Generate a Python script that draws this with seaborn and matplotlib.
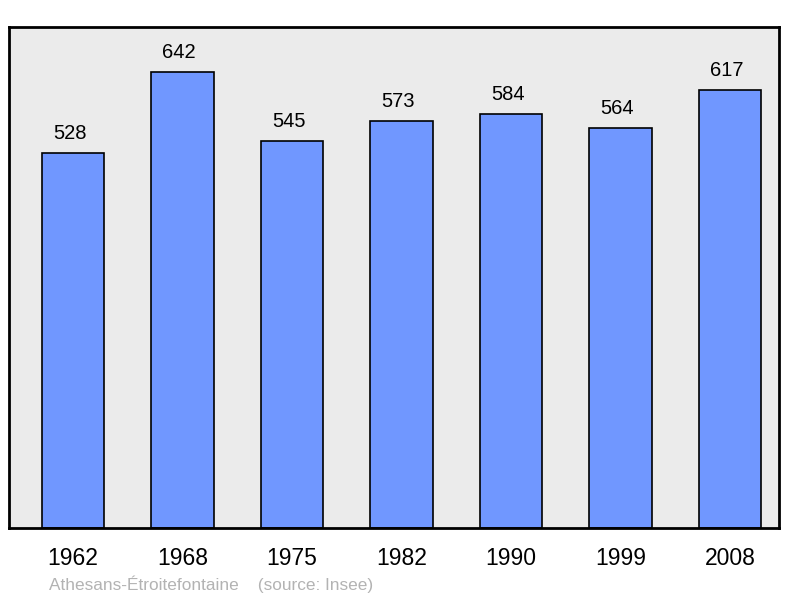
import numpy as np
import pandas as pd
import matplotlib
matplotlib.use("Agg")
import matplotlib.pyplot as plt
import seaborn as sns

# population data
years = ["1962", "1968", "1975", "1982", "1990", "1999", "2008"]
population = [528, 642, 545, 573, 584, 564, 617]

df = pd.DataFrame({"year": years, "pop": population})

sns.set_style("white")
plt.rcParams["font.family"] = ["Liberation Sans", "DejaVu Sans"]
plt.rcParams["text.color"] = "black"
plt.rcParams["xtick.color"] = "black"

fig = plt.figure(figsize=(8, 5.98), dpi=100)
ax = fig.add_axes([9 / 800, 1 - 528 / 598, 770 / 800, 501 / 598])
ax.set_facecolor("#ebebeb")

sns.barplot(data=df, x="year", y="pop", color="#7097ff", saturation=1,
            width=0.57, edgecolor="black", linewidth=1.2, ax=ax)

# value labels above the bars
for i, v in enumerate(population):
    ax.text(i - 0.03, v + 14, str(v), ha="center", va="bottom", fontsize=14.5, color="black")

ax.set_ylim(0, 706)
ax.set_xlim(-0.584, 6.447)
ax.set_yticks([])
ax.set_xlabel("")
ax.set_ylabel("")
ax.tick_params(axis="x", length=0, labelsize=16.5, pad=14, labelcolor="black")
for s in ax.spines.values():
    s.set_linewidth(2)
    s.set_color("black")

fig.text(49 / 800, 1 - 584 / 598, "Athesans-Étroitefontaine    (source: Insee)",
         color="#b3b3b3", fontsize=12.4, va="center", ha="left")

fig.savefig("out.png", dpi=100)
